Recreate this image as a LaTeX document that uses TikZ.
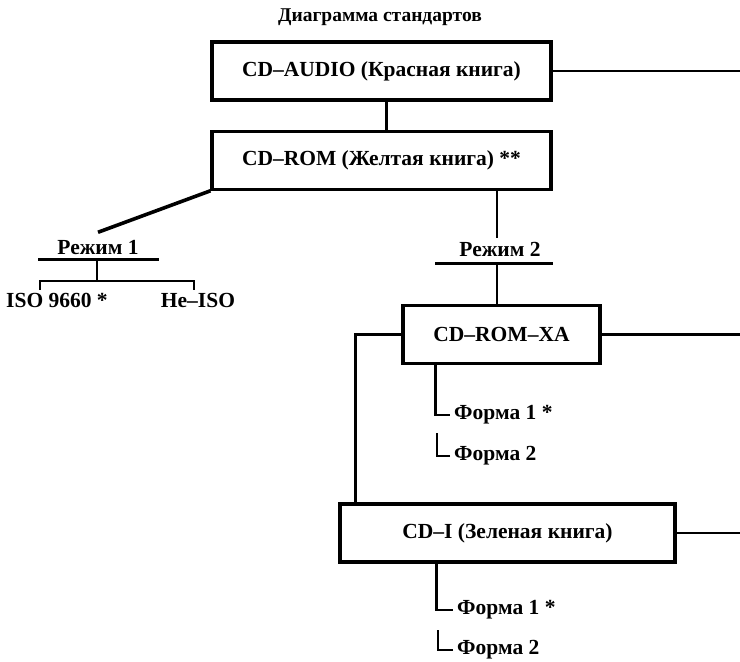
\documentclass[tikz,border=0pt]{standalone}
\usepackage{fontspec}
\setmainfont{Liberation Serif}
\usetikzlibrary{positioning}
\tikzset{
    every node/.style={font=\bfseries\fontsize{21.5}{24}\selectfont},
    box/.style={rectangle, draw, line width=3.2pt, minimum height=58pt, inner sep=0pt},
    line/.style={line width=2.8pt},
    bar/.style={line width=3pt},
    tag/.style={anchor=west, inner sep=4pt}
}

\begin{document}
\begin{tikzpicture}[
    x=1pt, y=-1pt,
    node distance=28pt,
    % page frame of the scan
]
\useasboundingbox (0,0) rectangle (740,662);
\coordinate (edge) at (740,0);

\node[font=\bfseries\fontsize{19.5}{22}\selectfont] (title) at (380,17) {Диаграмма стандартов};

\node[box, minimum width=339pt] (audio) at (381.5,71) {CD–AUDIO (Красная книга)};
\node[box, minimum width=339pt, below=of audio] (rom) {CD–ROM (Желтая книга) **};
\node[box, minimum width=197pt] (xa) at (501.5,334.5) {CD–ROM–XA};
\node[box, minimum width=335pt] (cdi) at (507.5,533) {CD–I (Зеленая книга)};

% mode 1 branch
\node (modeA) at (98,247) {Режим 1};
\node[anchor=west, inner sep=0pt] (iso) at (6,300) {ISO 9660 *};
\node (noniso) at (198,300) {Не–ISO};
\coordinate (uA) at (97,259);
\coordinate (forkA) at (97,281);

% mode 2 branch
\node (modeB) at (500,249) {Режим 2};
\coordinate (uB) at (497,263);

% forms
\node[tag] (fA1) at (450,415) {Форма 1 *};
\node[tag] (fA2) at (450,456) {Форма 2};
\node[tag] (fB1) at (453,610) {Форма 1 *};
\node[tag] (fB2) at (453,650) {Форма 2};

\draw[line] (audio.east) -- (audio.east -| edge);
\draw[line] ([xshift=5pt]audio.south) -- ([xshift=5pt]rom.north);
\draw[line width=3.6pt] (rom.south west) -- ([yshift=4pt]modeA.north);

\draw[bar] ([xshift=-59pt]uA) -- ([xshift=62pt]uA);
\draw[line] (uA) -- (forkA);
\draw[line] ([xshift=-57pt]forkA) -- ++(0,9);
\draw[line] ([xshift=-58pt]forkA) -- ([xshift=97pt]forkA) -- ++(0,9);

\draw[line] (uB |- rom.south) -- (uB |- modeB.north);
\draw[bar] ([xshift=-62pt]uB) -- ([xshift=56pt]uB);
\draw[line] (uB) -- (uB |- xa.north);

\draw[line] (xa.east) -- (xa.east -| edge);
\draw[line] (xa.west) -| ([xshift=17pt]cdi.north west);
\draw[line] ([xshift=34pt]xa.south west) |- (fA1.west);
\draw[line] (fA2.west) -| ++(-13,-23);

\draw[line] (cdi.east) -- (cdi.east -| edge);
\draw[line] ([xshift=98pt]cdi.south west) |- (fB1.west);
\draw[line] (fB2.west) -| ++(-15,-20);

\end{tikzpicture}
\end{document}
